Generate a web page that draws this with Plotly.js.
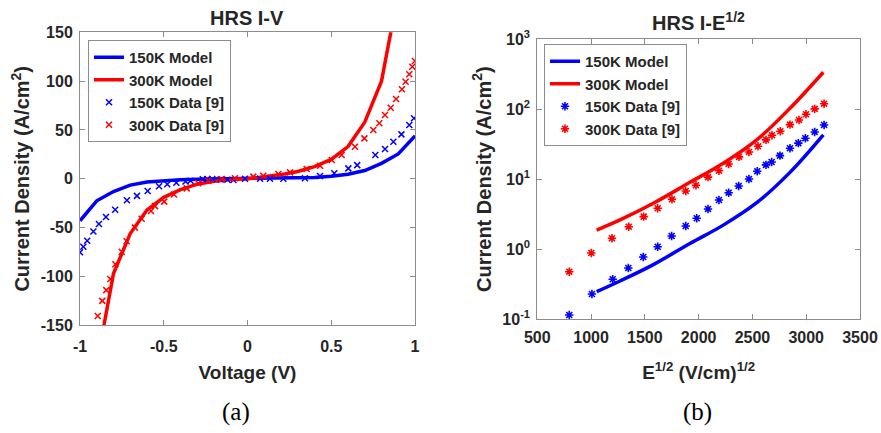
<!DOCTYPE html>
<html>
<head>
<meta charset="utf-8">
<script src="https://cdn.plot.ly/plotly-3.0.1.min.js"></script>
<style>html,body{margin:0;padding:0;background:#fff;}#chart{width:881px;height:433px;}</style>
</head>
<body>
<div id="chart"></div>
<script>
// ---- Panel (a): HRS I-V ----
const modelV = [-1,-0.9,-0.8,-0.7,-0.6,-0.5,-0.4,-0.3,-0.2,-0.1,0,0.1,0.2,0.3,0.4,0.5,0.6,0.7,0.8,0.9,1];
const model150K_IV = [-43,-22.5,-13,-6.5,-3.3,-1.8,-0.9,-0.4,-0.2,-0.1,0,0.1,0.3,0.7,1.4,2.6,4.6,8.5,15.8,25.5,44];
const model300K_IV = [-338,-190,-97,-56,-32,-19,-11,-5.5,-2.5,-0.8,0,1.8,4.3,7.5,12.5,19.8,33,58,100,190,338];

const data150K_V = [-1.0,-0.98,-0.957,-0.92,-0.887,-0.845,-0.79,-0.72,-0.66,-0.596,-0.528,-0.479,-0.425,-0.37,-0.34,-0.267,-0.24,-0.21,-0.16,-0.12,-0.084,-0.015,0.075,0.134,0.214,0.343,0.433,0.518,0.602,0.655,0.763,0.821,0.871,0.919,0.966,0.994];
const data150K_J = [-75.3,-69.5,-63.5,-54,-46.2,-39.2,-31.6,-22,-17.5,-12.4,-7.7,-5.6,-4,-2.8,-1.9,-0.5,-0.3,-0.2,-0.8,-1.0,-1.2,0,0,0,0,0.5,2.9,5.6,10.7,14,24.4,30.5,38,45.5,55,62];
const data300K_V = [-0.894,-0.867,-0.843,-0.819,-0.789,-0.751,-0.722,-0.672,-0.632,-0.576,-0.552,-0.497,-0.439,-0.363,-0.294,-0.234,-0.154,-0.075,0.035,0.094,0.184,0.254,0.353,0.433,0.503,0.562,0.642,0.698,0.751,0.787,0.821,0.855,0.887,0.922,0.944,0.966,0.984,1.0];
const data300K_J = [-140.5,-125,-114,-102.5,-87.5,-74.6,-64,-50,-41,-33,-28,-23.4,-16,-9.8,-4.6,-1.9,-0.2,0.5,2.2,3.2,4.9,6.6,10,13.4,19.2,24.4,32.9,41.4,50,56.8,65.3,72.8,81.7,91.6,99.4,107,114.8,120.6];

const ivXTicks = [-1,-0.5,0,0.5,1];
const ivXTickText = ["-1","-0.5","0","0.5","1"];
const ivYTicks = [-150,-100,-50,0,50,100,150];
const ivYTickText = ["-150","-100","-50","0","50","100","150"];

// ---- Panel (b): HRS I-E^1/2 ----
const modelE = [1052,1269,1579,1919,2229,2540,2849,3159];
const model150K_E = [0.246,0.35,0.6,1.2,2.2,4.6,12.5,43];
const model300K_E = [1.87,2.61,4.52,9.0,16.9,36.4,103,338];

const data150K_E = [797,1008,1201,1346,1485,1619,1749,1880,1982,2087,2189,2279,2372,2468,2545,2626,2679,2756,2849,2927,2992,3079,3166];
const data150K_Jb = [0.114,0.228,0.37,0.537,0.77,1.08,1.54,2.14,2.76,3.75,5.03,6.4,8.0,10.07,13.0,16.0,17.6,21.7,27.7,32.7,38.5,47.3,59.6];
const data300K_E = [797,1002,1194,1350,1489,1619,1752,1880,1975,2087,2189,2279,2375,2468,2552,2626,2682,2759,2849,2933,2998,3079,3166];
const data300K_Jb = [0.475,0.88,1.43,2.09,2.91,3.83,5.15,6.78,8.2,10.7,13.2,16.5,20.8,24.5,29.5,36.4,42.5,48.4,60.3,70.3,84.7,101,120];

const logYTicks = [0.1,1,10,100,1000];
const logYTickText = ["10<sup>-1</sup>","10<sup>0</sup>","10<sup>1</sup>","10<sup>2</sup>","10<sup>3</sup>"];
const eXTicks = [500,1000,1500,2000,2500,3000,3500];

const legendLabels = ["150K Model","300K Model","150K Data [9]","300K Data [9]"];

const BLUE = "#0000ff", RED = "#ff0000";
const FONT = "Liberation Sans, Arial, sans-serif";
const TXT = "#262626";

const traces = [
  {x: modelV, y: model150K_IV, mode: "lines", name: legendLabels[0], line: {color: BLUE, width: 3.5}, xaxis: "x", yaxis: "y", legend: "legend"},
  {x: modelV, y: model300K_IV, mode: "lines", name: legendLabels[1], line: {color: RED, width: 3.5}, xaxis: "x", yaxis: "y", legend: "legend"},
  {x: data150K_V, y: data150K_J, mode: "markers", name: legendLabels[2], marker: {symbol: "x-thin-open", color: BLUE, size: 6, line: {color: BLUE, width: 1.5}}, xaxis: "x", yaxis: "y", legend: "legend"},
  {x: data300K_V, y: data300K_J, mode: "markers", name: legendLabels[3], marker: {symbol: "x-thin-open", color: RED, size: 6, line: {color: RED, width: 1.5}}, xaxis: "x", yaxis: "y", legend: "legend"},
  {x: modelE, y: model150K_E, mode: "lines", name: legendLabels[0], line: {color: BLUE, width: 3.5, shape: "spline"}, xaxis: "x2", yaxis: "y2", legend: "legend2"},
  {x: modelE, y: model300K_E, mode: "lines", name: legendLabels[1], line: {color: RED, width: 3.5, shape: "spline"}, xaxis: "x2", yaxis: "y2", legend: "legend2"},
  {x: data150K_E, y: data150K_Jb, mode: "markers", name: legendLabels[2], marker: {symbol: "asterisk-open", color: BLUE, size: 7, line: {color: BLUE, width: 1.6}}, xaxis: "x2", yaxis: "y2", legend: "legend2"},
  {x: data300K_E, y: data300K_Jb, mode: "markers", name: legendLabels[3], marker: {symbol: "asterisk-open", color: RED, size: 7, line: {color: RED, width: 1.6}}, xaxis: "x2", yaxis: "y2", legend: "legend2"}
];

const W = 881, H = 433;
const axisCommon = {
  showgrid: false, zeroline: false, showline: true, linecolor: "#8c8c8c", linewidth: 1,
  mirror: "ticks", ticks: "inside", ticklen: 5, tickcolor: "#8c8c8c",
  tickfont: {family: FONT, size: 16, color: TXT, weight: "bold"}
};
const yTitleFont = {family: FONT, size: 20, color: TXT, weight: "bold"};
const xTitleFont = {family: FONT, size: 19, color: TXT, weight: "bold"};
const legFont = {family: FONT, size: 15, color: TXT, weight: "bold"};

const layout = {
  width: W, height: H,
  margin: {l: 0, r: 0, t: 0, b: 0},
  paper_bgcolor: "#fff", plot_bgcolor: "#fff",
  showlegend: true,
  xaxis: Object.assign({}, axisCommon, {
    domain: [80/W, 415/W], range: [-1, 1], tickvals: ivXTicks, ticktext: ivXTickText,
    anchor: "y", ticklabelstandoff: 6,
    title: {text: "Voltage (V)", font: xTitleFont, standoff: 12}
  }),
  yaxis: Object.assign({}, axisCommon, {
    domain: [1 - 325.3/H, 1 - 32.3/H], range: [-150, 150], tickvals: ivYTicks, ticktext: ivYTickText,
    anchor: "x", ticklabelstandoff: 3,
    title: {text: "Current Density (A/cm<sup>2</sup>)", font: yTitleFont, standoff: 5}
  }),
  xaxis2: Object.assign({}, axisCommon, {
    domain: [537.3/W, 860/W], range: [500, 3500], tickvals: eXTicks,
    anchor: "y2", ticklabelstandoff: 4,
    title: {text: "E<sup>1/2</sup> (V/cm)<sup>1/2</sup>", font: xTitleFont, standoff: 20}
  }),
  yaxis2: Object.assign({}, axisCommon, {
    type: "log", domain: [1 - 319/H, 1 - 39.3/H], range: [-1, 3], tickvals: logYTicks, ticktext: logYTickText,
    anchor: "x2", ticklabelstandoff: 3,
    title: {text: "Current Density (A/cm<sup>2</sup>)", font: yTitleFont, standoff: 5}
  }),
  legend: {
    x: 88/W, y: 1 - 40/H, xanchor: "left", yanchor: "top",
    bgcolor: "#fff", bordercolor: "#8c8c8c", borderwidth: 1,
    font: legFont, itemwidth: 30, tracegroupgap: 0, traceorder: "normal"
  },
  legend2: {
    x: 544/W, y: 1 - 44/H, xanchor: "left", yanchor: "top",
    bgcolor: "#fff", bordercolor: "#8c8c8c", borderwidth: 1,
    font: legFont, itemwidth: 30, tracegroupgap: 0, traceorder: "normal"
  },
  annotations: [
    {text: "HRS I-V", xref: "paper", yref: "paper", x: 247.5/W, y: 1 - 17.5/H, xanchor: "center", yanchor: "middle", showarrow: false, font: {family: FONT, size: 20, color: TXT, weight: "bold"}},
    {text: "HRS I-E<sup>1/2</sup>", xref: "paper", yref: "paper", x: 698.6/W, y: 1 - 22/H, xanchor: "center", yanchor: "middle", showarrow: false, font: {family: FONT, size: 20, color: TXT, weight: "bold"}},
    {text: "(a)", xref: "paper", yref: "paper", x: 236/W, y: 1 - 412/H, xanchor: "center", yanchor: "middle", showarrow: false, font: {family: "Liberation Serif, serif", size: 25, color: "#000"}},
    {text: "(b)", xref: "paper", yref: "paper", x: 697/W, y: 1 - 412/H, xanchor: "center", yanchor: "middle", showarrow: false, font: {family: "Liberation Serif, serif", size: 25, color: "#000"}}
  ]
};

Plotly.newPlot("chart", traces, layout, {displayModeBar: false, staticPlot: true});
</script>
</body>
</html>
